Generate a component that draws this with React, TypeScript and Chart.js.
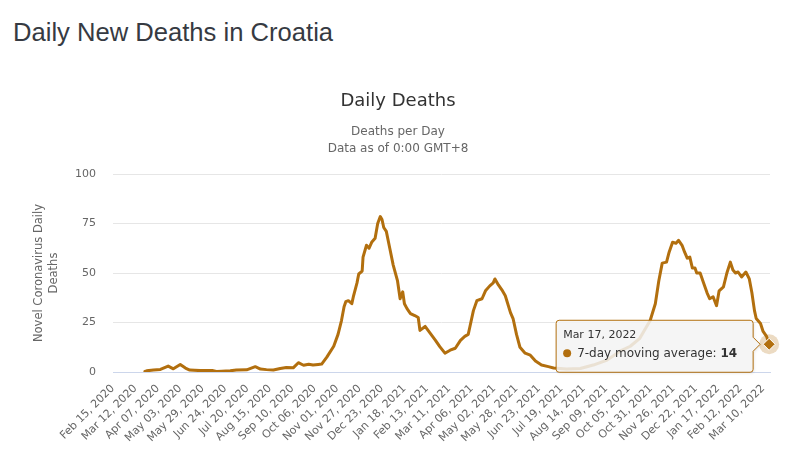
import React, { useEffect, useRef } from 'react';
import { Chart, registerables } from 'chart.js';

Chart.register(...registerables);

// ---- Data ----
const pageTitle = 'Daily New Deaths in Croatia';
const chartTitle = 'Daily Deaths';
const subtitleLines = ['Deaths per Day', 'Data as of 0:00 GMT+8'];
const yAxisTitle = ['Novel Coronavirus Daily', 'Deaths'];
const seriesName = '7-day moving average';
const tooltipDate = 'Mar 17, 2022';

// x tick labels, one every 26 days starting Feb 15, 2020 (day 0)
const tickLabels = [
  'Feb 15, 2020', 'Mar 12, 2020', 'Apr 07, 2020', 'May 03, 2020', 'May 29, 2020',
  'Jun 24, 2020', 'Jul 20, 2020', 'Aug 15, 2020', 'Sep 10, 2020', 'Oct 06, 2020',
  'Nov 01, 2020', 'Nov 27, 2020', 'Dec 23, 2020', 'Jan 18, 2021', 'Feb 13, 2021',
  'Mar 11, 2021', 'Apr 06, 2021', 'May 02, 2021', 'May 28, 2021', 'Jun 23, 2021',
  'Jul 19, 2021', 'Aug 14, 2021', 'Sep 09, 2021', 'Oct 05, 2021', 'Oct 31, 2021',
  'Nov 26, 2021', 'Dec 22, 2021', 'Jan 17, 2022', 'Feb 12, 2022', 'Mar 10, 2022',
];
const tickStepDays = 26;
const lastDay = 762; // axis end (Mar 17, 2022 is day 761)

const yMax = 100;
const yStep = 25;

// day index (days since Feb 15, 2020) and 7-day moving average of deaths
const days = [
  37, 39, 47, 55, 64, 70, 78, 84, 89, 101, 115, 120, 126, 136, 143, 155, 165, 171, 178, 186,
  194, 201, 209, 215, 221, 227, 232, 238, 242, 248, 256, 261, 265, 268, 270, 273, 277, 279, 283, 285,
  289, 290, 294, 297, 300, 304, 307, 310, 312, 314, 317, 321, 325, 330, 333, 336, 338, 341, 345, 350,
  354, 356, 362, 368, 374, 379, 385, 391, 397, 403, 408, 412, 414, 418, 422, 428, 432, 437, 441, 443,
  447, 451, 455, 461, 464, 468, 472, 478, 484, 490, 497, 505, 511, 526, 542, 557, 573, 588, 600, 611,
  623, 629, 633, 637, 642, 645, 649, 653, 656, 660, 663, 666, 669, 672, 675, 677, 681, 685, 689, 692,
  696, 700, 703, 708, 712, 716, 719, 722, 725, 729, 734, 738, 741, 744, 746, 751, 754, 758, 761,
];
const values = [
  0.3, 0.6, 1.0, 1.3, 3.0, 1.6, 3.8, 2.0, 1.0, 0.7, 0.8, 0.3, 0.4, 0.6, 1.0, 1.1, 2.7, 1.5, 1.2, 1.0,
  1.8, 2.3, 2.1, 4.7, 3.4, 3.9, 3.5, 3.8, 4.0, 7.5, 13, 19, 26, 33, 35.5, 36, 34.5, 38.5, 45, 49.5,
  51, 58, 64, 62.5, 65.5, 67.5, 75, 78.5, 77, 73, 71, 62.5, 54, 46, 37, 40.5, 34.5, 32, 29.5, 28.5,
  27.5, 21, 23, 19.5, 16, 12.8, 9.5, 11, 12, 16, 18, 19, 23, 31, 36, 37, 41, 43.5, 45, 47,
  44, 41.5, 38.5, 30, 27, 19, 12.5, 9.5, 8.5, 5.5, 3.5, 2.7, 2, 1.5, 1.8, 3.5, 6, 10.5, 13, 17,
  26, 34.5, 46, 55, 55.5, 60.5, 65.5, 65, 66.5, 64, 60.5, 57.5, 58, 52.5, 52.5, 50, 50, 45, 40, 37,
  38, 33.5, 41, 43, 50, 55.5, 51.5, 50, 50.5, 48, 50.5, 47, 40, 31, 27, 24.5, 20.5, 18, 14,
];

const LINE = '#b26f0e';
const FONT = '"DejaVu Sans", Verdana, sans-serif';

export default function App() {
  const canvasRef = useRef<HTMLCanvasElement | null>(null);

  useEffect(() => {
    const canvas = canvasRef.current;
    if (!canvas) return;
    const last = values.length - 1;
    const points = days.map((d, i) => ({ x: d, y: values[i] }));

    const hoverPlugin = {
      id: 'hoverPoint',
      afterDatasetsDraw(chart: any) {
        const pt = chart.getDatasetMeta(0).data[last];
        const ctx = chart.ctx;
        ctx.save();
        ctx.beginPath();
        ctx.arc(pt.x, pt.y, 10, 0, Math.PI * 2);
        ctx.fillStyle = 'rgba(178,111,14,0.25)';
        ctx.fill();
        ctx.restore();
        pt.draw(ctx, chart.chartArea);
      },
      afterDraw(chart: any) {
        const pt = chart.getDatasetMeta(0).data[last];
        const ctx = chart.ctx;
        const right = pt.x - 16;
        const left = right - 197;
        const top = pt.y - 24;
        const bottom = pt.y + 28;
        const r = 3;
        ctx.save();
        ctx.beginPath();
        ctx.moveTo(left + r, top);
        ctx.lineTo(right - r, top);
        ctx.quadraticCurveTo(right, top, right, top + r);
        ctx.lineTo(right, pt.y - 7);
        ctx.lineTo(pt.x - 9, pt.y);
        ctx.lineTo(right, pt.y + 7);
        ctx.lineTo(right, bottom - r);
        ctx.quadraticCurveTo(right, bottom, right - r, bottom);
        ctx.lineTo(left + r, bottom);
        ctx.quadraticCurveTo(left, bottom, left, bottom - r);
        ctx.lineTo(left, top + r);
        ctx.quadraticCurveTo(left, top, left + r, top);
        ctx.closePath();
        ctx.shadowColor = 'rgba(0,0,0,0.12)';
        ctx.shadowBlur = 3;
        ctx.shadowOffsetX = 1;
        ctx.shadowOffsetY = 1;
        ctx.fillStyle = 'rgba(247,247,247,0.85)';
        ctx.fill();
        ctx.shadowColor = 'transparent';
        ctx.lineWidth = 1;
        ctx.strokeStyle = LINE;
        ctx.stroke();

        ctx.fillStyle = '#333333';
        ctx.textBaseline = 'alphabetic';
        ctx.textAlign = 'left';
        ctx.font = `11px ${FONT}`;
        ctx.fillText(tooltipDate, left + 7, pt.y - 6);

        ctx.beginPath();
        ctx.arc(left + 11, pt.y + 9, 4, 0, Math.PI * 2);
        ctx.fillStyle = LINE;
        ctx.fill();

        ctx.fillStyle = '#333333';
        ctx.font = `12px ${FONT}`;
        const label = `${seriesName}: `;
        ctx.fillText(label, left + 21, pt.y + 13);
        const w = ctx.measureText(label).width;
        ctx.font = `bold 12px ${FONT}`;
        ctx.fillText(String(Math.round(values[last])), left + 21 + w, pt.y + 13);
        ctx.restore();
      },
    };

    const chart = new Chart(canvas, {
      type: 'line',
      data: {
        datasets: [
          {
            label: seriesName,
            data: points,
            borderColor: LINE,
            backgroundColor: LINE,
            borderWidth: 3,
            borderJoinStyle: 'round',
            borderCapStyle: 'round',
            tension: 0,
            fill: false,
            pointRadius: values.map((_, i) => (i === last ? 6 : 0)),
            pointStyle: 'rectRot',
            pointBackgroundColor: LINE,
            pointBorderColor: '#ffffff',
            pointBorderWidth: 1,
          },
        ],
      },
      options: {
        responsive: false,
        animation: false,
        events: [],
        layout: { padding: { top: 122, right: 18, left: 0, bottom: 0 } },
        plugins: {
          legend: { display: false },
          tooltip: { enabled: false },
          title: { display: false },
        },
        scales: {
          x: {
            type: 'linear',
            min: 0,
            max: lastDay,
            grid: { display: true, drawOnChartArea: false, drawTicks: false },
            border: { display: true, color: '#ccd6eb', width: 1 },
            afterBuildTicks: (axis: any) => {
              axis.ticks = tickLabels.map((_, i) => ({ value: i * tickStepDays }));
            },
            afterFit: (axis: any) => {
              axis.height = 85;
            },
            ticks: {
              autoSkip: false,
              maxRotation: 45,
              minRotation: 45,
              padding: 10,
              color: '#666666',
              font: { size: 11, family: FONT },
              callback: (_v: any, i: number) => tickLabels[i],
            },
          },
          y: {
            min: 0,
            max: yMax,
            grid: { color: '#e6e6e6', drawTicks: false },
            border: { display: false },
            afterFit: (axis: any) => {
              axis.width = 105;
            },
            ticks: {
              stepSize: yStep,
              padding: 17,
              color: '#666666',
              font: { size: 11, family: FONT },
            },
            title: {
              display: true,
              text: yAxisTitle,
              color: '#666666',
              font: { size: 11.5, family: FONT, lineHeight: 1.3 },
              padding: { top: 24, bottom: 0 },
            },
          },
        },
      },
      plugins: [hoverPlugin],
    } as any);

    return () => chart.destroy();
  }, []);

  return (
    <div
      style={{
        position: 'fixed',
        left: 0,
        top: 0,
        width: 788,
        height: 457,
        background: '#ffffff',
        overflow: 'hidden',
      }}
    >
      <div
        style={{
          position: 'absolute',
          left: 13,
          top: 18.6,
          fontFamily: '"Liberation Sans", Arial, sans-serif',
          fontSize: 25.6,
          lineHeight: '26px',
          color: '#363a42',
          whiteSpace: 'nowrap',
        }}
      >
        {pageTitle}
      </div>
      <div
        style={{
          position: 'absolute',
          left: 8,
          top: 52,
          width: 780,
          height: 405,
        }}
      >
        <canvas ref={canvasRef} width={780} height={405} style={{ width: 780, height: 405, display: 'block' }} />
      </div>
      <div
        style={{
          position: 'absolute',
          left: 8,
          width: 780,
          top: 88.8,
          textAlign: 'center',
          fontFamily: FONT,
          fontSize: 18,
          lineHeight: '22px',
          color: '#333333',
        }}
      >
        {chartTitle}
      </div>
      <div
        style={{
          position: 'absolute',
          left: 8,
          width: 780,
          top: 122.9,
          textAlign: 'center',
          fontFamily: FONT,
          fontSize: 12,
          lineHeight: '17px',
          color: '#666666',
        }}
      >
        {subtitleLines.map((t) => (
          <div key={t}>{t}</div>
        ))}
      </div>
    </div>
  );
}
